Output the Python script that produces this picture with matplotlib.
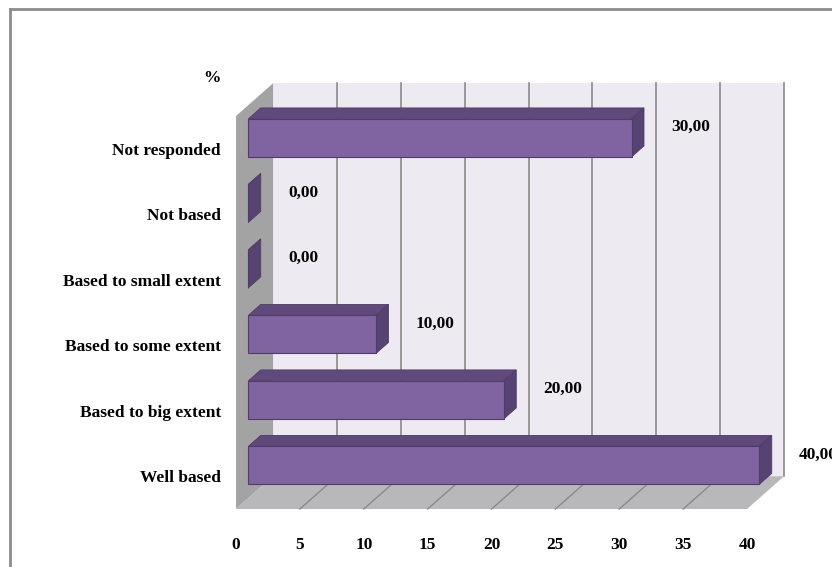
import matplotlib
matplotlib.use('Agg')
import numpy as np
import matplotlib.pyplot as plt
from matplotlib.patches import Polygon
from matplotlib.lines import Line2D

# data (bottom to top)
categories = ['Well based', 'Based to big extent', 'Based to some extent',
              'Based to small extent', 'Not based', 'Not responded']
values = [40, 20, 10, 0, 0, 30]
value_labels = ['40,00', '20,00', '10,00', '0,00', '0,00', '30,00']
xticks = [0, 5, 10, 15, 20, 25, 30, 35, 40]

# 3d look (depth of the box in data units)
DX = 2.9
DY = 0.5
bar_h = 0.58
front_col = '#8064A2'
top_col = '#604A7B'
side_col = '#574372'
edge_col = '#4F3C68'
wall_col = '#EDEAF2'
side_wall_col = '#A3A3A3'
floor_col = '#B8B7BA'
grid_col = '#8A8A8A'

plt.rcParams['font.family'] = 'Liberation Serif'
plt.rcParams['font.weight'] = 'bold'

fig = plt.figure(figsize=(8.32, 5.67), dpi=100)
ax = fig.add_axes([0.2837, 0.1023, 0.6142, 0.6931])
ax.set_xlim(0, 40)
ax.set_ylim(-0.5, 5.5)

# back wall, side wall, floor
y0, y1 = -0.5, 5.5
ax.add_patch(Polygon([(DX, y0 + DY), (40 + DX, y0 + DY), (40 + DX, y1 + DY), (DX, y1 + DY)],
                     closed=True, fc=wall_col, ec='none', clip_on=False, zorder=1))
ax.add_patch(Polygon([(0, y0), (DX, y0 + DY), (DX, y1 + DY), (0, y1)],
                     closed=True, fc=side_wall_col, ec='none', clip_on=False, zorder=1))
ax.add_patch(Polygon([(0, y0), (40, y0), (40 + DX, y0 + DY), (DX, y0 + DY)],
                     closed=True, fc=floor_col, ec='none', clip_on=False, zorder=1))

# gridlines on back wall and floor
for v in xticks:
    if 0 < v:
        ax.plot([v + DX, v + DX], [y0 + DY, y1 + DY], color=grid_col, lw=1.2,
                clip_on=False, zorder=2)
    if 0 < v < 40:
        ax.plot([v, v + DX], [y0, y0 + DY], color=grid_col, lw=1.0,
                clip_on=False, zorder=2)

# bars
ypos = np.arange(len(categories))
ax.barh(ypos + DY / 3, values, height=bar_h, left=DX / 3, color=front_col,
        edgecolor=edge_col, linewidth=0.8, zorder=4, clip_on=False)
for y, v in zip(ypos, values):
    yc = y + DY / 3
    bot, top = yc - bar_h / 2, yc + bar_h / 2
    xa, xb = DX / 3, v + DX / 3
    ax.add_patch(Polygon([(xa, top), (xb, top), (xb + DX / 3, top + DY / 3), (xa + DX / 3, top + DY / 3)],
                         closed=True, fc=top_col, ec=edge_col, lw=0.6, clip_on=False, zorder=3))
    ax.add_patch(Polygon([(xb, bot), (xb + DX / 3, bot + DY / 3), (xb + DX / 3, top + DY / 3), (xb, top)],
                         closed=True, fc=side_col, ec=edge_col, lw=0.6, clip_on=False, zorder=3))

# value labels
for y, v, lab in zip(ypos, values, value_labels):
    ax.text(v + DX / 3 + 3.1, y + 0.33, lab, ha='left', va='center', fontsize=12.5,
            fontweight='bold', clip_on=False, zorder=5)

ax.set_xticks(xticks)
ax.set_xticklabels([str(t) for t in xticks])
ax.set_yticks(ypos)
ax.set_yticklabels(categories)
ax.tick_params(axis='x', length=0, pad=20, labelsize=12.5)
ax.tick_params(axis='y', length=0, pad=11, labelsize=12.5)
for s in ax.spines.values():
    s.set_visible(False)
ax.patch.set_visible(False)

fig.text(0.2548, 0.8624, '%', ha='center', va='center', fontsize=12.5, fontweight='bold')

# chart frame
fig.add_artist(Line2D([0.012, 0.012], [0.0, 0.984], color='#8C8C8C', lw=2))
fig.add_artist(Line2D([0.012, 1.0], [0.984, 0.984], color='#8C8C8C', lw=2))

fig.savefig('out.png', dpi=100)
